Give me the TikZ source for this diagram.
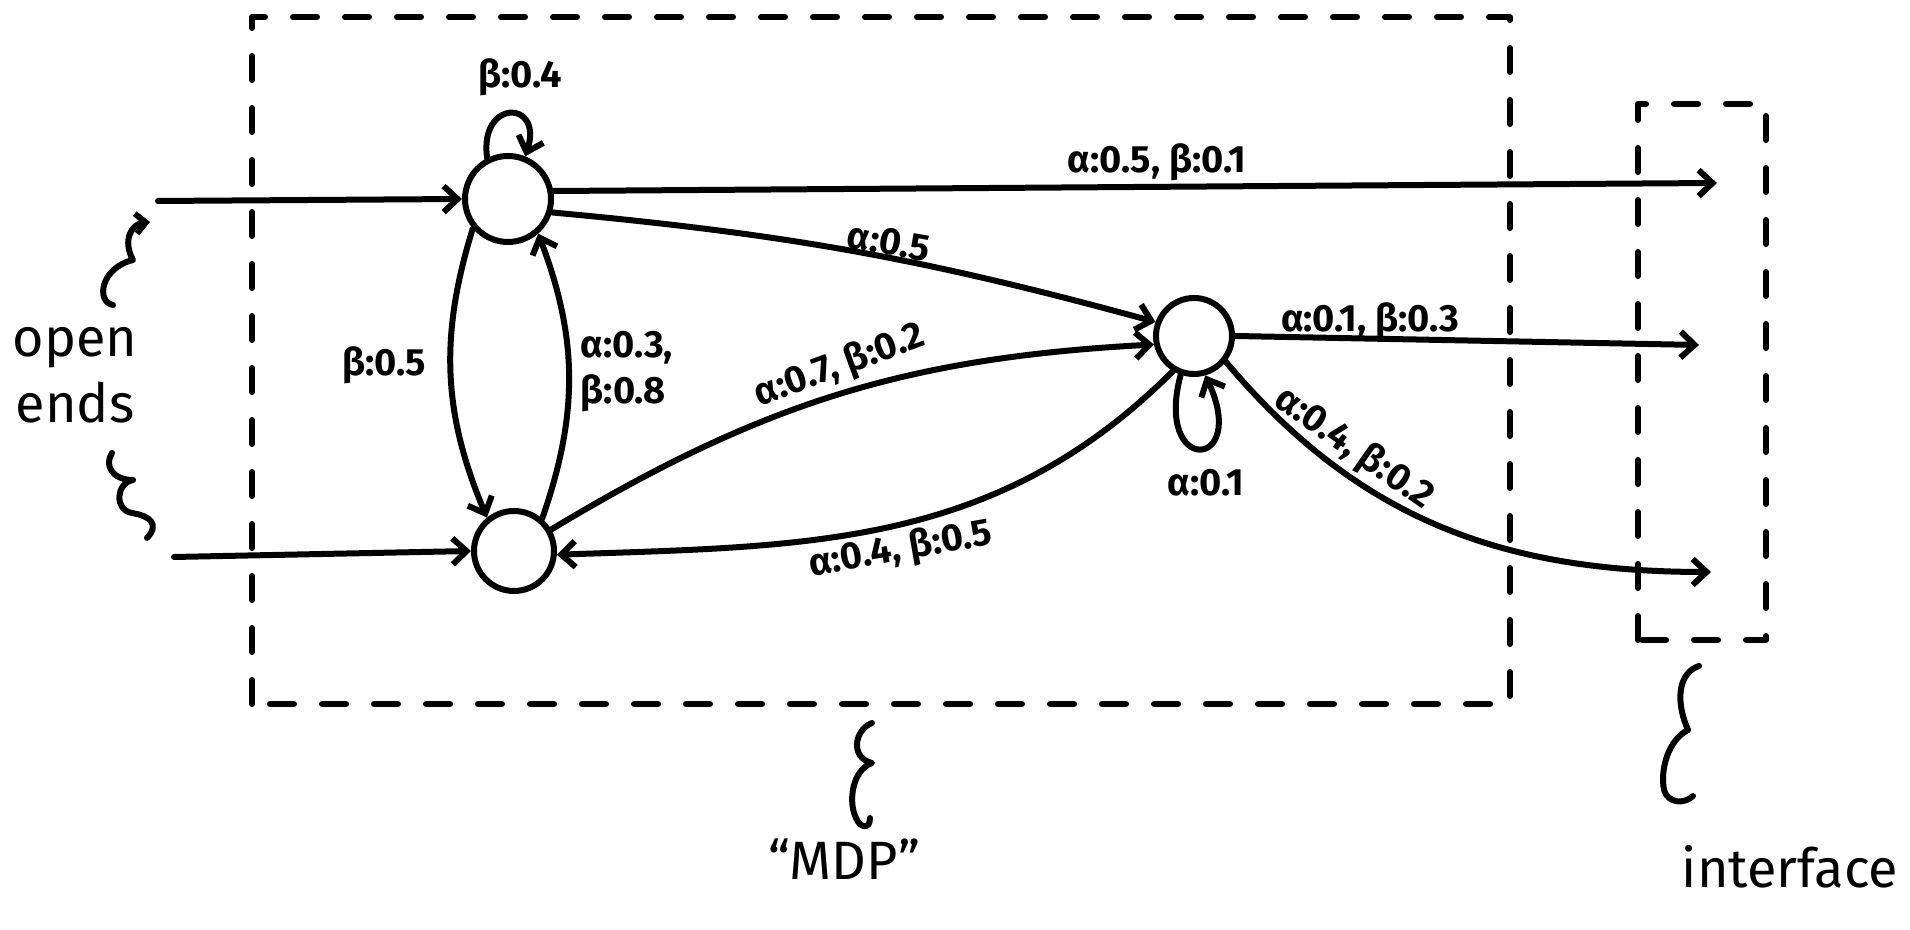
\documentclass[tikz,border=0pt]{standalone}
\usepackage{fontspec}
\setmainfont{Fira Sans}
\usetikzlibrary{arrows.meta}
\begin{document}
\begin{tikzpicture}[x=0.5pt,y=0.5pt,
  line width=3pt, line cap=round, line join=round,
  state/.style={circle,draw,inner sep=0pt},
  arr/.style={-{Straight Barb[length=7pt,width=13pt,line width=3pt]}},
  sarr/.style={-{Straight Barb[length=5pt,width=10pt,line width=3pt]}},
  box/.style={dash pattern=on 12pt off 14pt},
  lbl/.style={font=\bfseries\fontsize{19}{23}\selectfont, inner sep=1pt},
  big/.style={font=\fontsize{27}{33}\selectfont, inner sep=0pt}]
\useasboundingbox (0,0) rectangle (1910,930);
% dashed boxes
\draw[box] (252,226) rectangle (1510,913);
\draw[box] (1638,290) rectangle (1766,826);
% states
\node[state,minimum size=43pt] (s1) at (508,731) {};
\node[state,minimum size=40pt] (s2) at (514,379) {};
\node[state,minimum size=38pt] (s3) at (1194,594) {};
% open ends
\coordinate (i1) at (158,729);
\coordinate (i2) at (174,373);
\coordinate (o1) at (1717,747);
\coordinate (o2) at (1699,585);
\coordinate (o3) at (1711,358);
\draw[arr] (i1) -- (s1.180);
\draw[arr] (i2) -- (s2.180);
\draw[arr] (s1.10) -- (o1);
\draw[arr] (s3.0) -- (o2);
\draw[arr] (s3.-39) to[out=-50,in=180] (o3);
% transitions
\draw[arr] (s1.-17) to[bend left=5] (s3.160);
\draw[arr] (s2.30) to[bend left=14] (s3.192);
\draw[arr] (s3.-121) to[out=-135,in=2] (s2.-5);
\draw[arr] (s1.220) to[bend right=20] (s2.129);
\draw[arr] (s2.49) to[bend right=20] (s1.-49);
\draw[arr] (s1.117) .. controls +(98:60) and +(72:60) .. (s1.68);
\draw[arr] (s3.-109) .. controls +(-105:105) and +(-65:105) .. (s3.-74);
% labels
\node[lbl] (l1) at (520,853) {β:0.4};
\node[lbl] (l2) at (1157,768) {α:0.5, β:0.1};
\node[lbl,rotate=-10] (l3) at (889,688) {α:0.5};
\node[lbl] (l4) at (384,565) {β:0.5};
\node[lbl,align=left] (l5) at (627,558) {α:0.3,\\β:0.8};
\node[lbl,rotate=20] (l6) at (840,564) {α:0.7, β:0.2};
\node[lbl] (l7) at (1370,609) {α:0.1, β:0.3};
\node[lbl,rotate=-35] (l8) at (1354,481) {α:0.4, β:0.2};
\node[lbl] (l9) at (1206,447) {α:0.1};
\node[lbl,rotate=10] (l10) at (901,380) {α:0.4, β:0.5};
% annotations
\node[big,align=center] (oe) at (75,555) {open\\ends};
\node[big] (mdp) at (844,71) {“MDP”};
\node[big] (itf) at (1790,63) {interface};
% braces
\coordinate (b1s) at (113,625);
\coordinate (b1e) at (150,708);
\draw[sarr] (b1s) .. controls (96,628) and (100,662) .. (133,670)
  .. controls (122,690) and (132,706) .. (b1e);
\coordinate (b2s) at (112,477);
\coordinate (b2e) at (147,392);
\draw (b2s) .. controls (104,465) and (112,450) .. (133,450)
  .. controls (116,447) and (114,420) .. (132,417)
  .. controls (150,414) and (160,406) .. (b2e);
\coordinate (b3s) at (872,207);
\coordinate (b3e) at (870,112);
\draw (b3s) .. controls (854,200) and (850,172) .. (872,167)
  .. controls (852,160) and (848,128) .. (856,112)
  .. controls (860,102) and (870,100) .. (b3e);
\coordinate (b4s) at (1699,264);
\coordinate (b4e) at (1693,134);
\draw (b4s) .. controls (1680,258) and (1674,232) .. (1688,200)
  .. controls (1668,190) and (1660,160) .. (1664,140)
  .. controls (1668,126) and (1685,126) .. (b4e);
\end{tikzpicture}
\end{document}
